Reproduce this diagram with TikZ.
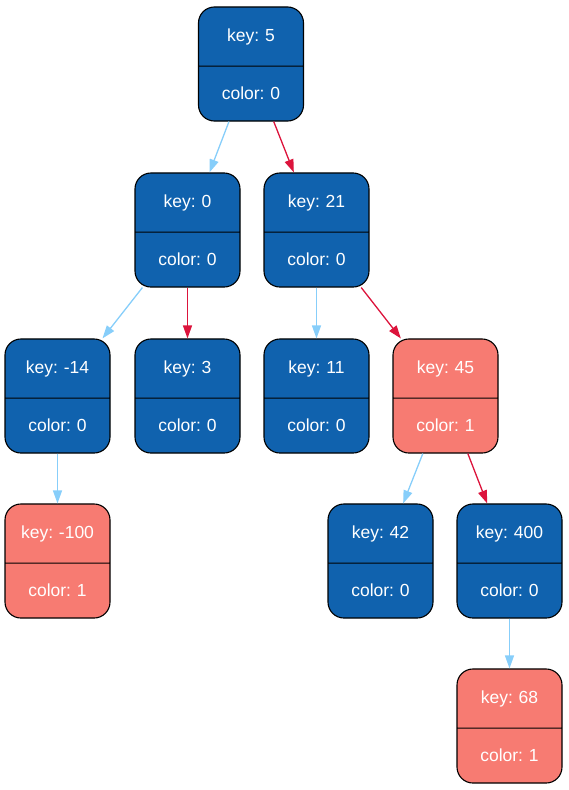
\documentclass[tikz,border=0pt]{standalone}
\usepackage{fontspec}
\setmainfont{Liberation Sans}
\usetikzlibrary{shapes.multipart, arrows.meta}
\definecolor{nodeblue}{RGB}{16, 98, 174}
\definecolor{nodesalmon}{RGB}{247, 123, 114}
\definecolor{leftedge}{RGB}{135, 206, 250}
\definecolor{rightedge}{RGB}{220, 20, 60}
\frenchspacing

\begin{document}
\begin{tikzpicture}[
    x=1pt, y=1pt,
    >={Triangle[length=13pt, width=9pt]}, % Arrow tip style
    tnode/.style={ % Style for tree nodes, takes fill color as argument
        rectangle split,
        rectangle split parts=2,
        rounded corners=16pt,
        draw=black,
        line width=1.1pt,
        fill=#1,
        text=white,
        font=\fontsize{17.5}{20}\selectfont,
        inner xsep=0pt,
        inner ysep=20.5pt,
        text width=105pt,
        align=center,
        text height=13pt,
        text depth=4pt
    },
    black_node/.style={tnode=nodeblue},
    red_node/.style={tnode=nodesalmon},
    % Edge styles
    edge/.style={->, line width=1.3pt, draw=#1, fill=#1},
    left_edge/.style={edge=leftedge},
    right_edge/.style={edge=rightedge}
]
\useasboundingbox (0,0) rectangle (568,-790);

% Row 1
\node[black_node] (k5) at (251,-64) {key: 5\nodepart{two}color: 0};

% Row 2
\node[black_node] (k0) at (187.5,-230) {key: 0\nodepart{two}color: 0};
\node[black_node] (k21) at (316.5,-230) {key: 21\nodepart{two}color: 0};

% Row 3
\node[black_node] (km14) at (57.5,-396) {key: -14\nodepart{two}color: 0};
\node[black_node] (k3) at (187.5,-396) {key: 3\nodepart{two}color: 0};
\node[black_node] (k11) at (316.5,-396) {key: 11\nodepart{two}color: 0};
\node[red_node] (k45) at (445.5,-396) {key: 45\nodepart{two}color: 1};

% Row 4
\node[red_node] (km100) at (57.5,-561) {key: -100\nodepart{two}color: 1};
\node[black_node] (k42) at (380.5,-561) {key: 42\nodepart{two}color: 0};
\node[black_node] (k400) at (509.5,-561) {key: 400\nodepart{two}color: 0};

% Row 5
\node[red_node] (k68) at (509.5,-726) {key: 68\nodepart{two}color: 1};

% Edges
\draw[left_edge] (k5) -- (k0);
\draw[right_edge] (k5) -- (k21);
\draw[left_edge] (k0) -- (km14);
\draw[right_edge] (k0) -- (k3);
\draw[left_edge] (k21) -- (k11);
\draw[right_edge] (k21) -- (k45);
\draw[left_edge] (km14) -- (km100);
\draw[left_edge] (k45) -- (k42);
\draw[right_edge] (k45) -- (k400);
\draw[left_edge] (k400) -- (k68);

\end{tikzpicture}
\end{document}
